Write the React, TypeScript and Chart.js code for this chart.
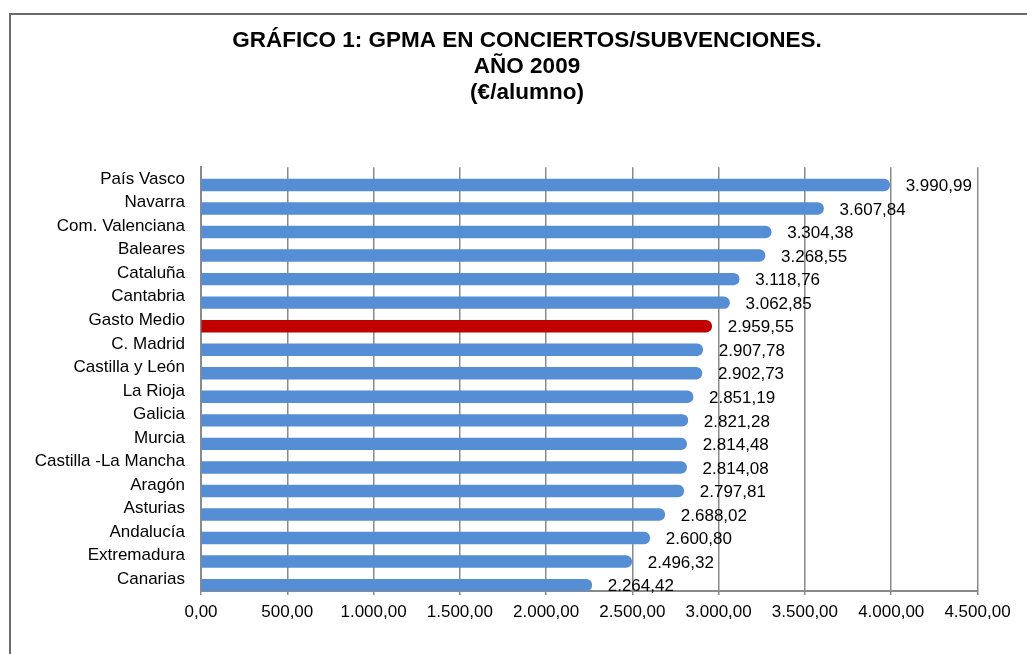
import React, { useEffect, useRef } from "react";
import { Chart, registerables } from "chart.js";

Chart.register(...registerables);

const titleLines = [
  "GRÁFICO 1: GPMA EN CONCIERTOS/SUBVENCIONES.",
  "AÑO 2009",
  "(€/alumno)",
];

const regions = [
  "País Vasco",
  "Navarra",
  "Com. Valenciana",
  "Baleares",
  "Cataluña",
  "Cantabria",
  "Gasto Medio",
  "C. Madrid",
  "Castilla y León",
  "La Rioja",
  "Galicia",
  "Murcia",
  "Castilla -La Mancha",
  "Aragón",
  "Asturias",
  "Andalucía",
  "Extremadura",
  "Canarias",
];

const gpma = [
  3990.99, 3607.84, 3304.38, 3268.55, 3118.76, 3062.85, 2959.55, 2907.78,
  2902.73, 2851.19, 2821.28, 2814.48, 2814.08, 2797.81, 2688.02, 2600.8,
  2496.32, 2264.42,
];

const highlighted = "Gasto Medio";

const axisMin = 0;
const axisMax = 4500;
const axisStep = 500;

const FONT = "'Liberation Sans', Arial, sans-serif";
const BLUE = "#558ED5";
const RED = "#C00000";

function fmtEs(v: number): string {
  const fixed = Math.abs(v).toFixed(2);
  const [intPart, dec] = fixed.split(".");
  const grouped = intPart.replace(/\B(?=(\d{3})+(?!\d))/g, ".");
  return (v < 0 ? "-" : "") + grouped + "," + dec;
}

const valueLabelPlugin = {
  id: "valueLabels",
  afterDatasetsDraw(chart: any) {
    const meta = chart.getDatasetMeta(1);
    const ctx = chart.ctx;
    ctx.save();
    ctx.font = `17px ${FONT}`;
    ctx.fillStyle = "#000000";
    ctx.textAlign = "left";
    ctx.textBaseline = "middle";
    meta.data.forEach((el: any, i: number) => {
      ctx.fillText(fmtEs(gpma[i]), el.x + 16, el.y + 1.5);
    });
    ctx.restore();
  },
};

export default function App() {
  const canvasRef = useRef<HTMLCanvasElement | null>(null);

  useEffect(() => {
    if (!canvasRef.current) return;
    const chart = new Chart(canvasRef.current, {
      type: "bar",
      data: {
        labels: regions,
        datasets: [
          {
            label: "vacío",
            data: regions.map(() => null),
            backgroundColor: BLUE,
          },
          {
            label: "GPMA",
            data: gpma,
            backgroundColor: regions.map((r) => (r === highlighted ? RED : BLUE)),
            borderRadius: 6,
            borderSkipped: "start",
          },
        ],
      },
      plugins: [valueLabelPlugin],
      options: {
        indexAxis: "y",
        responsive: false,
        animation: false,
        devicePixelRatio: 1,
        datasets: {
          bar: {
            categoryPercentage: 1,
            barPercentage: 1,
          },
        },
        layout: {
          padding: 0,
        },
        plugins: {
          legend: { display: false },
          tooltip: { enabled: false },
          title: {
            display: true,
            text: titleLines,
            color: "#000000",
            font: { family: FONT, size: 22.5, weight: "bold", lineHeight: 26 / 22.5 },
            padding: { top: 27.5, bottom: 61.8 },
          },
        },
        scales: {
          x: {
            type: "linear",
            position: "bottom",
            min: axisMin,
            max: axisMax,
            afterFit: (s: any) => {
              s.height = 63;
            },
            ticks: {
              stepSize: axisStep,
              color: "#000000",
              font: { family: FONT, size: 17 },
              padding: 7.5,
              maxRotation: 0,
              callback: (v: any) => fmtEs(Number(v)),
            },
            grid: {
              color: "#8a8a8a",
              lineWidth: 1.5,
              tickLength: 4,
              drawTicks: true,
            },
            border: { display: true, color: "#8a8a8a", width: 2 },
          },
          y: {
            type: "category",
            position: "left",
            afterFit: (s: any) => {
              s.width = 201;
            },
            ticks: {
              color: "#000000",
              font: { family: FONT, size: 17 },
              padding: 16,
              autoSkip: false,
            },
            grid: { display: false, drawTicks: false },
            border: { display: true, color: "#8a8a8a", width: 2 },
          },
          yRight: {
            type: "category",
            position: "right",
            afterFit: (s: any) => {
              s.width = 76.5;
            },
            ticks: { display: false },
            grid: { display: false, drawTicks: false },
            border: { display: false },
          },
        },
      },
    } as any);
    return () => chart.destroy();
  }, []);

  return (
    <div
      style={{
        position: "fixed",
        left: 0,
        top: 0,
        width: 1027,
        height: 654,
        overflow: "hidden",
        background: "#ffffff",
      }}
    >
      <div
        style={{
          position: "absolute",
          left: 9,
          top: 13,
          width: 2000,
          height: 2000,
          borderTop: "2px solid #6b6b6b",
          borderLeft: "2px solid #6b6b6b",
          boxSizing: "border-box",
        }}
      />
      <canvas
        ref={canvasRef}
        width={1054}
        height={654}
        style={{ position: "absolute", left: 0, top: 0, width: 1054, height: 654 }}
      />
    </div>
  );
}
